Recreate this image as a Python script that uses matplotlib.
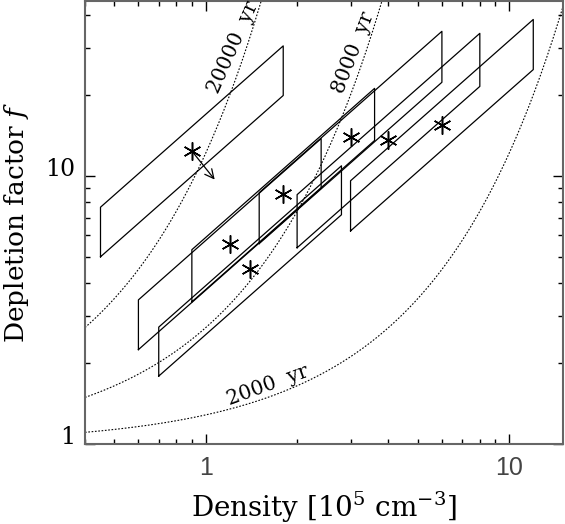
import numpy as np
import matplotlib
matplotlib.use("Agg")
import matplotlib.pyplot as plt
from matplotlib.ticker import FixedLocator, NullFormatter, FuncFormatter

plt.rcParams["mathtext.fontset"] = "dejavuserif"

# depletion curves: f = exp(age / t_dep), with t_dep = 8000 yr at n = 1e5 cm^-3
ages = [2000, 8000, 20000]
age_labels = ["2000  yr", "8000  yr", "20000  yr"]
t_dep_ref = 8000.0
label_n = [1.597, 3.36, 1.363]
label_rot = [20, 69, 66]
label_off = [(0, 8.6), (-8.4, 0), (-9.4, 0)]

# sources: density range and f/n range (parallelograms), best estimate (stars)
n_lo = [0.45, 0.6, 0.7, 0.9, 1.5, 2.0, 3.0]
n_hi = [1.8, 2.4, 2.8, 3.6, 6.0, 8.0, 12.0]
ratio_lo = [11.1, 3.75, 2.56, 3.77, 3.73, 2.7, 2.08]
ratio_hi = [17.0, 5.75, 3.9, 5.9, 5.78, 4.26, 3.2]
n_star = [0.9, 1.2, 1.4, 1.8, 3.0, 4.0, 6.0]
f_star = [12.4, 5.6, 4.5, 8.6, 14.0, 13.6, 15.5]

# arrow from the first source
arrow_from = (0.9, 12.4)
arrow_to = (1.07, 9.7)

xlim = (0.4, 15)
ylim = (1.0, 45)

fig = plt.figure(figsize=(5.65, 5.24), dpi=100)
ax = fig.add_axes([0.1504, 0.1527, 0.8455, 0.8454])
ax.set_xscale("log")
ax.set_yscale("log")
ax.set_xlim(*xlim)
ax.set_ylim(*ylim)

# model curves
n_grid = np.logspace(np.log10(xlim[0]), np.log10(xlim[1]), 400)
for age, lab, ln, rot, off in zip(ages, age_labels, label_n, label_rot, label_off):
    ax.plot(n_grid, np.exp(n_grid * age / t_dep_ref), color="k", lw=0.8,
            ls=(0, (1.5, 1.5)))
    ax.annotate(lab, xy=(ln, np.exp(ln * age / t_dep_ref)), xytext=off,
                textcoords="offset points", rotation=rot, rotation_mode="anchor",
                ha="center", va="center", fontsize=14.5, family="DejaVu Serif")

# parallelograms
for a, b, rl, rh in zip(n_lo, n_hi, ratio_lo, ratio_hi):
    xs = [a, b, b, a, a]
    ys = [rl * a, rl * b, rh * b, rh * a, rl * a]
    ax.plot(xs, ys, color="k", lw=0.9)

ax.plot(n_star, f_star, ls="none", marker=(6, 2, 0), ms=13, mew=1.1, color="k")

ax.annotate("", xy=arrow_to, xytext=arrow_from,
            arrowprops=dict(arrowstyle="->", lw=0.9, color="k",
                            mutation_scale=16, shrinkA=0, shrinkB=0))

# axes styling
for s in ax.spines.values():
    s.set_color("#666666")
    s.set_linewidth(1.5)

ax.xaxis.set_major_locator(FixedLocator([1, 10]))
ax.yaxis.set_major_locator(FixedLocator([1, 10]))
ax.xaxis.set_minor_formatter(NullFormatter())
ax.yaxis.set_minor_formatter(NullFormatter())
fmt = FuncFormatter(lambda v, p: "%d" % round(v))
ax.xaxis.set_major_formatter(fmt)
ax.yaxis.set_major_formatter(fmt)

ax.tick_params(which="both", direction="in", top=True, right=True, color="k", width=1)
ax.tick_params(which="major", length=7)
ax.tick_params(which="minor", length=3.5)
ax.tick_params(axis="x", which="major", pad=9, labelsize=18, labelcolor="#444444")
ax.tick_params(axis="y", which="major", pad=7, labelsize=17)

for t in ax.get_xticklabels():
    t.set_family("Liberation Sans")
for t in ax.get_yticklabels():
    t.set_family("DejaVu Serif")
    t.set_va("baseline")

ax.set_xlabel(r"Density [10$^5$ cm$^{-3}$]", fontsize=20, family="DejaVu Serif")
ax.set_ylabel(r"Depletion factor $f$", fontsize=19, family="DejaVu Serif")
ax.xaxis.label.set_va("baseline")
ax.yaxis.label.set_va("baseline")
ax.xaxis.set_label_coords(0.5, -0.165)
ax.yaxis.set_label_coords(-0.1266, 0.5)

fig.savefig("out.png", dpi=100)
